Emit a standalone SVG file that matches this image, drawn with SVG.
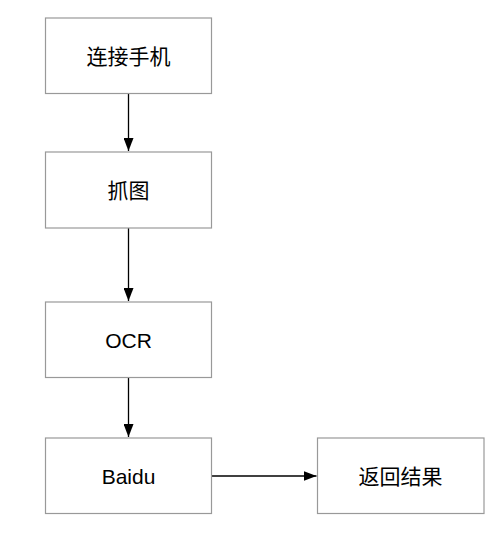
<svg xmlns="http://www.w3.org/2000/svg" width="500" height="548" viewBox="0 0 500 548">
<style>
.box{fill:#fff;stroke:#999;stroke-width:1.2}
.lbl{font-family:"Liberation Sans","Noto Sans CJK SC",sans-serif;font-size:21px;fill:#000;text-anchor:middle;dominant-baseline:central}
.edge{stroke:#000;stroke-width:1.3;fill:none}
</style>
<defs>
<marker id="ah" viewBox="0 0 13 10" refX="13" refY="5" markerWidth="13" markerHeight="10" markerUnits="userSpaceOnUse" orient="auto">
<path d="M0,0 L13,5 L0,10 z" fill="#000"/>
</marker>
</defs>
<rect width="500" height="548" fill="#fff"/>
<g id="edges">
<line class="edge" x1="128.5" y1="93.5" x2="128.5" y2="151" marker-end="url(#ah)"/>
<line class="edge" x1="128.5" y1="228" x2="128.5" y2="301" marker-end="url(#ah)"/>
<line class="edge" x1="128.5" y1="377.5" x2="128.5" y2="437" marker-end="url(#ah)"/>
<line class="edge" x1="211.5" y1="476" x2="316.5" y2="476" marker-end="url(#ah)"/>
</g>
<g id="n1"><rect class="box" x="45.5" y="18" width="166" height="75.5"/><text class="lbl" x="128.5" y="56">连接手机</text></g>
<g id="n2"><rect class="box" x="45.5" y="152" width="166" height="76"/><text class="lbl" x="128.5" y="190">抓图</text></g>
<g id="n3"><rect class="box" x="45.5" y="302" width="166" height="75.5"/><text class="lbl" x="128.5" y="340">OCR</text></g>
<g id="n4"><rect class="box" x="45.5" y="438" width="166" height="75.5"/><text class="lbl" x="128.5" y="476">Baidu</text></g>
<g id="n5"><rect class="box" x="317.5" y="438" width="166.5" height="75.5"/><text class="lbl" x="400.5" y="476">返回结果</text></g>
</svg>
